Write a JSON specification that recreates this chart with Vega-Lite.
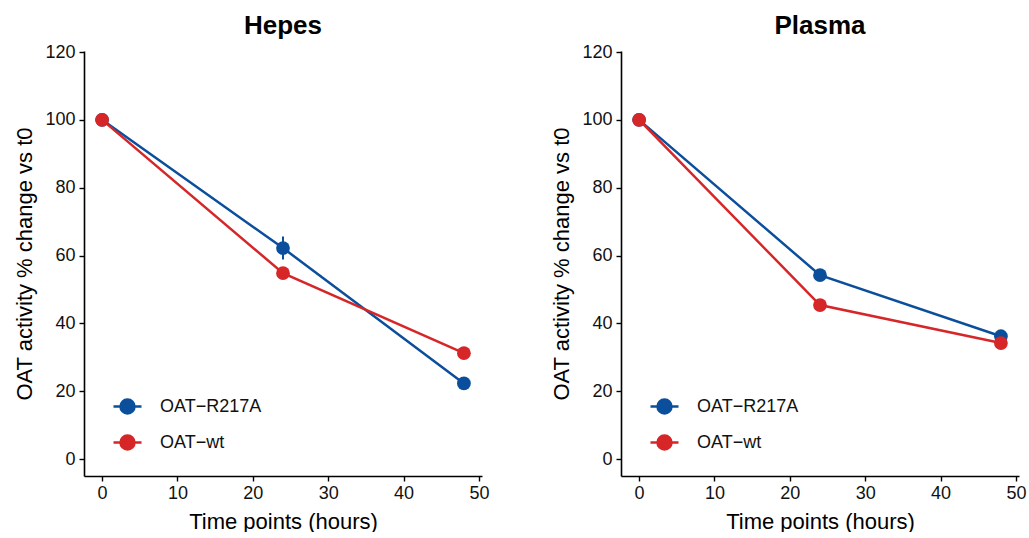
{
  "$schema": "https://vega.github.io/schema/vega-lite/v6.json",
  "background": "white",
  "padding": {"left": 13, "top": 13, "right": 5, "bottom": 0},
  "config": {
    "font": "Liberation Sans",
    "view": {"stroke": null},
    "axis": {"domainColor": "black", "domainWidth": 1.6, "tickColor": "black", "tickWidth": 1.4, "tickSize": 5, "labelFontSize": 18, "labelColor": "#111111", "titleFontSize": 22, "titleFontWeight": "normal", "titleColor": "black", "grid": false, "labelPadding": 3},
    "axisY": {"titlePadding": 8, "labelPadding": 4},
    "axisX": {"titlePadding": 9},
    "title": {"fontSize": 26, "fontWeight": "bold", "color": "black", "anchor": "middle", "offset": 4}
  },
  "data": {"values": [
    {"medium": "Hepes", "group": "OAT−R217A", "time": 0, "mean": 100, "lo": 100, "hi": 100},
    {"medium": "Hepes", "group": "OAT−R217A", "time": 24, "mean": 62.2, "lo": 58.8, "hi": 65.6},
    {"medium": "Hepes", "group": "OAT−R217A", "time": 48, "mean": 22.3, "lo": 21.3, "hi": 23.3},
    {"medium": "Hepes", "group": "OAT−wt", "time": 0, "mean": 100, "lo": 100, "hi": 100},
    {"medium": "Hepes", "group": "OAT−wt", "time": 24, "mean": 54.8, "lo": 53.8, "hi": 55.8},
    {"medium": "Hepes", "group": "OAT−wt", "time": 48, "mean": 31.2, "lo": 30.2, "hi": 32.2},
    {"medium": "Plasma", "group": "OAT−R217A", "time": 0, "mean": 100, "lo": 100, "hi": 100},
    {"medium": "Plasma", "group": "OAT−R217A", "time": 24, "mean": 54.2, "lo": 52.7, "hi": 55.7},
    {"medium": "Plasma", "group": "OAT−R217A", "time": 48, "mean": 36.2, "lo": 35.2, "hi": 37.2},
    {"medium": "Plasma", "group": "OAT−wt", "time": 0, "mean": 100, "lo": 100, "hi": 100},
    {"medium": "Plasma", "group": "OAT−wt", "time": 24, "mean": 45.4, "lo": 44.4, "hi": 46.4},
    {"medium": "Plasma", "group": "OAT−wt", "time": 48, "mean": 34.2, "lo": 33.2, "hi": 35.2}
  ]},
  "spacing": 61,
  "resolve": {"legend": {"color": "independent"}},
  "hconcat": [
    {
      "width": 398, "height": 425,
      "title": "Hepes",
      "transform": [{"filter": "datum.medium === 'Hepes'"}],
      "encoding": {
        "x": {"field": "time", "type": "quantitative", "scale": {"domain": [-2.4, 50.4], "nice": false, "zero": false}, "axis": {"values": [0, 10, 20, 30, 40, 50], "title": "Time points (hours)", "labelFontSize": 18}},
        "color": {"field": "group", "type": "nominal", "scale": {"domain": ["OAT−R217A", "OAT−wt"], "range": ["#0b4f9c", "#d62628"]},
          "legend": {"orient": "none", "legendX": 28, "legendY": 340, "title": null, "symbolType": "M-1,0H1M-0.5,0A0.5,0.5,0,1,1,0.5,0A0.5,0.5,0,1,1,-0.5,0Z", "symbolSize": 784, "symbolStrokeWidth": 2.5, "labelFontSize": 18, "labelOffset": 17, "rowPadding": 8, "padding": 0, "labelColor": "#111111",
            "encode": {"symbols": {"update": {"shape": {"value": "M-1,0H1M-0.5,0A0.5,0.5,0,1,1,0.5,0A0.5,0.5,0,1,1,-0.5,0Z"}, "fill": {"scale": "color", "field": "value"}, "stroke": {"scale": "color", "field": "value"}, "opacity": {"value": 1}, "strokeWidth": {"value": 2.5}}}}}}
      },
      "layer": [
        {"mark": {"type": "rule", "strokeWidth": 2}, "encoding": {"y": {"field": "lo", "type": "quantitative", "scale": {"domain": [-5, 120.3], "nice": false, "zero": false}, "axis": {"values": [0, 20, 40, 60, 80, 100, 120], "title": "OAT activity % change vs t0", "labelFontSize": 18}}, "y2": {"field": "hi"}}},
        {"mark": {"type": "line", "strokeWidth": 2.5}, "encoding": {"y": {"field": "mean", "type": "quantitative", "title": "OAT activity % change vs t0"}}},
        {"mark": {"type": "point", "filled": true, "size": 190, "opacity": 1}, "encoding": {"y": {"field": "mean", "type": "quantitative", "title": "OAT activity % change vs t0"}}}
      ]
    },
    {
      "width": 398, "height": 425,
      "title": "Plasma",
      "transform": [{"filter": "datum.medium === 'Plasma'"}],
      "encoding": {
        "x": {"field": "time", "type": "quantitative", "scale": {"domain": [-2.4, 50.4], "nice": false, "zero": false}, "axis": {"values": [0, 10, 20, 30, 40, 50], "title": "Time points (hours)", "labelFontSize": 18}},
        "color": {"field": "group", "type": "nominal", "scale": {"domain": ["OAT−R217A", "OAT−wt"], "range": ["#0b4f9c", "#d62628"]},
          "legend": {"orient": "none", "legendX": 28, "legendY": 340, "title": null, "symbolType": "M-1,0H1M-0.5,0A0.5,0.5,0,1,1,0.5,0A0.5,0.5,0,1,1,-0.5,0Z", "symbolSize": 784, "symbolStrokeWidth": 2.5, "labelFontSize": 18, "labelOffset": 17, "rowPadding": 8, "padding": 0, "labelColor": "#111111",
            "encode": {"symbols": {"update": {"shape": {"value": "M-1,0H1M-0.5,0A0.5,0.5,0,1,1,0.5,0A0.5,0.5,0,1,1,-0.5,0Z"}, "fill": {"scale": "color", "field": "value"}, "stroke": {"scale": "color", "field": "value"}, "opacity": {"value": 1}, "strokeWidth": {"value": 2.5}}}}}}
      },
      "layer": [
        {"mark": {"type": "rule", "strokeWidth": 2}, "encoding": {"y": {"field": "lo", "type": "quantitative", "scale": {"domain": [-5, 120.3], "nice": false, "zero": false}, "axis": {"values": [0, 20, 40, 60, 80, 100, 120], "title": "OAT activity % change vs t0", "labelFontSize": 18}}, "y2": {"field": "hi"}}},
        {"mark": {"type": "line", "strokeWidth": 2.5}, "encoding": {"y": {"field": "mean", "type": "quantitative", "title": "OAT activity % change vs t0"}}},
        {"mark": {"type": "point", "filled": true, "size": 190, "opacity": 1}, "encoding": {"y": {"field": "mean", "type": "quantitative", "title": "OAT activity % change vs t0"}}}
      ]
    }
  ]
}
